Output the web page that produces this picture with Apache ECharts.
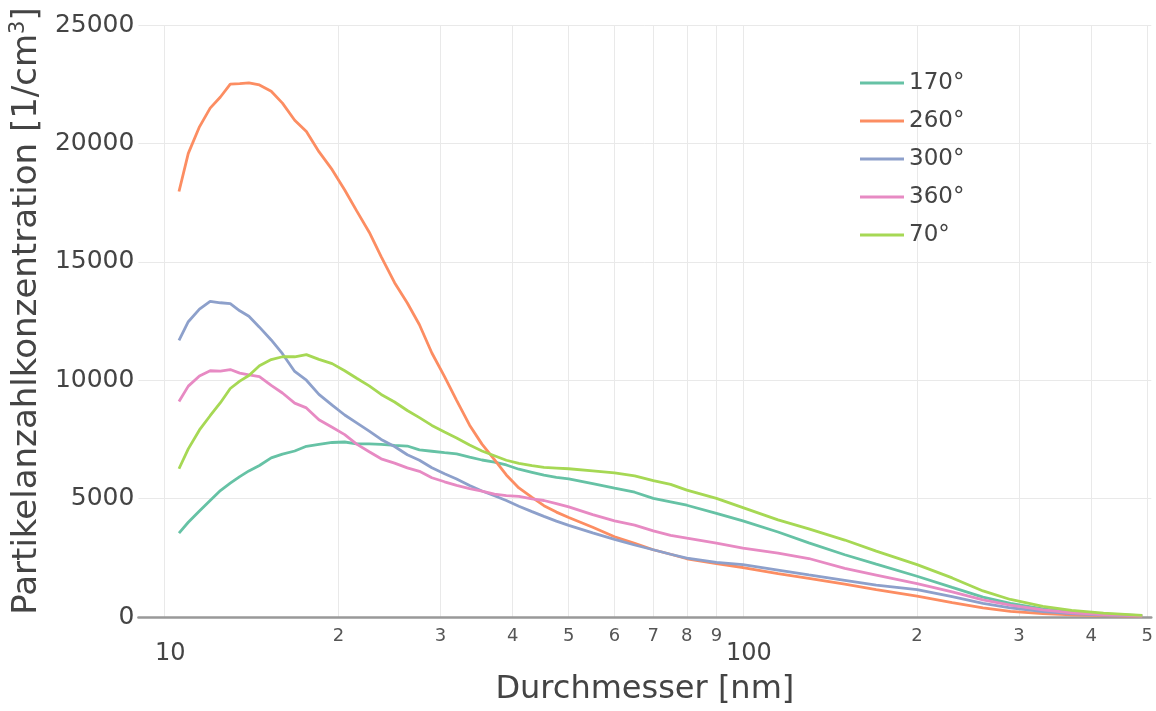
<!DOCTYPE html>
<html>
<head>
<meta charset="utf-8">
<script src="https://cdn.jsdelivr.net/npm/echarts@6/dist/echarts.min.js"></script>
<style>
html, body { margin: 0; padding: 0; background: #fff; }
#chart { width: 1156px; height: 711px; }
</style>
</head>
<body>
<div id="chart"></div>
<script>
// Durchmesser [nm] (shared x for all curves)
const diameters = [10.6, 11.0, 11.5, 12.0, 12.5, 13.0, 13.5, 14.0, 14.6, 15.3,
    16.0, 16.8, 17.6, 18.5, 19.5, 20.5, 21.5, 22.6, 23.7, 25,
    26.3, 27.6, 29, 30.5, 32, 33.7, 35.4, 37.2, 39, 41,
    43.2, 45.3, 47.6, 50, 55, 60, 65, 70, 75, 80,
    90, 100, 115, 130, 150, 170, 200, 230, 260, 290,
    330, 370, 420, 490];

const conc170 = [3540, 4000, 4480, 4920, 5340, 5650, 5930, 6170, 6400, 6720,
    6880, 7010, 7210, 7290, 7370, 7390, 7310, 7310, 7290, 7250,
    7220, 7060, 7000, 6940, 6890, 6750, 6630, 6540, 6420, 6240,
    6110, 5990, 5900, 5830, 5630, 5440, 5270, 5010, 4860, 4720,
    4380, 4060, 3590, 3130, 2630, 2230, 1720, 1250, 840, 580,
    340, 200, 120, 60];

const conc260 = [17970, 19580, 20700, 21490, 21960, 22500, 22520, 22560, 22470, 22200,
    21700, 20980, 20500, 19650, 18890, 18030, 17150, 16250, 15220, 14120,
    13260, 12340, 11150, 10150, 9150, 8100, 7300, 6650, 6000, 5450,
    5050, 4700, 4430, 4200, 3790, 3390, 3110, 2840, 2650, 2460,
    2250, 2090, 1830, 1630, 1390, 1160, 880, 610, 390, 240,
    140, 90, 60, 30];

const conc300 = [11680, 12470, 13000, 13330, 13270, 13230, 12930, 12700, 12240, 11700,
    11120, 10370, 10000, 9400, 8950, 8530, 8200, 7850, 7500, 7200,
    6850, 6620, 6300, 6050, 5830, 5550, 5320, 5120, 4920, 4680,
    4450, 4250, 4050, 3870, 3550, 3280, 3040, 2840, 2650, 2490,
    2310, 2210, 1980, 1780, 1550, 1350, 1160, 860, 580, 390,
    230, 140, 80, 40];

const conc360 = [9100, 9750, 10180, 10400, 10380, 10450, 10300, 10220, 10150, 9780,
    9460, 9030, 8830, 8330, 8010, 7700, 7300, 6980, 6680, 6500,
    6300, 6150, 5880, 5710, 5560, 5420, 5320, 5190, 5130, 5090,
    4990, 4920, 4790, 4650, 4320, 4060, 3880, 3640, 3450, 3330,
    3120, 2910, 2700, 2470, 2050, 1770, 1410, 1060, 720, 500,
    300, 180, 100, 50];

const conc70 = [6260, 7100, 7900, 8500, 9050, 9650, 9960, 10200, 10610, 10870,
    10990, 10990, 11080, 10880, 10700, 10400, 10080, 9760, 9400, 9080,
    8720, 8420, 8090, 7810, 7560, 7260, 7010, 6810, 6620, 6490,
    6390, 6320, 6290, 6260, 6170, 6090, 5960, 5760, 5600, 5360,
    5010, 4620, 4100, 3720, 3250, 2780, 2210, 1650, 1100, 740,
    450, 280, 160, 70];

const seriesNames = ['170°', '260°', '300°', '360°', '70°'];
const seriesValues = [conc170, conc260, conc300, conc360, conc70];
const colors = ['#66c2a5', '#fc8d62', '#8da0cb', '#e78ac3', '#a6d854'];

const xTicks = [10, 20, 30, 40, 50, 60, 70, 80, 90, 100, 200, 300, 400, 500];
const xMin = 9.02;
const xMax = 508;

const FONT = 'DejaVu Sans';
const lg = v => Math.log10(v);

const chart = echarts.init(document.getElementById('chart'));

const option = {
    animation: false,
    textStyle: { fontFamily: FONT },
    grid: { left: 130, right: 3, top: 25, bottom: 89, containLabel: false },
    legend: {
        orient: 'vertical',
        left: 855,
        top: 65,
        icon: 'rect',
        itemWidth: 44,
        itemHeight: 3,
        itemGap: 12,
        textStyle: { fontSize: 23, color: '#444', fontFamily: FONT, lineHeight: 26 },
        data: seriesNames
    },
    xAxis: {
        type: 'value',
        min: lg(xMin),
        max: lg(xMax),
        name: 'Durchmesser [nm]',
        nameLocation: 'middle',
        nameGap: 57,
        nameTextStyle: { fontSize: 32, color: '#444', fontFamily: FONT },
        axisLine: { show: true, lineStyle: { color: '#999', width: 2.5 } },
        axisTick: { show: false, customValues: xTicks.map(lg) },
        splitLine: { show: true, lineStyle: { color: '#e9e9e9', width: 1 } },
        axisLabel: {
            customValues: xTicks.map(lg),
            margin: 10,
            formatter: v => {
                const d = Math.round(Math.pow(10, v));
                if (d === 10 || d === 100) return '{big|' + d + '}';
                return '{small|' + String(d)[0] + '}';
            },
            rich: {
                big: { fontSize: 24, color: '#444', fontFamily: FONT, padding: [15, 0, 0, 12] },
                small: { fontSize: 18, color: '#555', fontFamily: FONT }
            }
        }
    },
    yAxis: {
        type: 'value',
        min: 0,
        max: 25000,
        interval: 5000,
        name: '{a|Partikelanzahlkonzentration [1/cm}{sup|3}{a|]}',
        nameLocation: 'middle',
        nameGap: 84,
        nameTextStyle: {
            padding: [0, 0, 0, 20],
            rich: {
                a: { fontSize: 34, color: '#444', fontFamily: FONT, lineHeight: 38 },
                sup: { fontSize: 21, color: '#444', fontFamily: FONT, lineHeight: 24, verticalAlign: 'top' }
            }
        },
        axisLine: { show: false },
        axisTick: { show: false },
        axisLabel: {
            fontSize: 25, color: '#444', margin: 4, fontFamily: FONT,
            formatter: v => String(v)
        },
        splitLine: { show: true, lineStyle: { color: '#e9e9e9', width: 1 } }
    },
    series: seriesNames.map((name, i) => ({
        name: name,
        type: 'line',
        showSymbol: false,
        symbol: 'none',
        lineStyle: { width: 2.8, color: colors[i] },
        itemStyle: { color: colors[i] },
        data: diameters.map((d, j) => [lg(d), seriesValues[i][j]])
    }))
};

chart.setOption(option);
</script>
</body>
</html>
